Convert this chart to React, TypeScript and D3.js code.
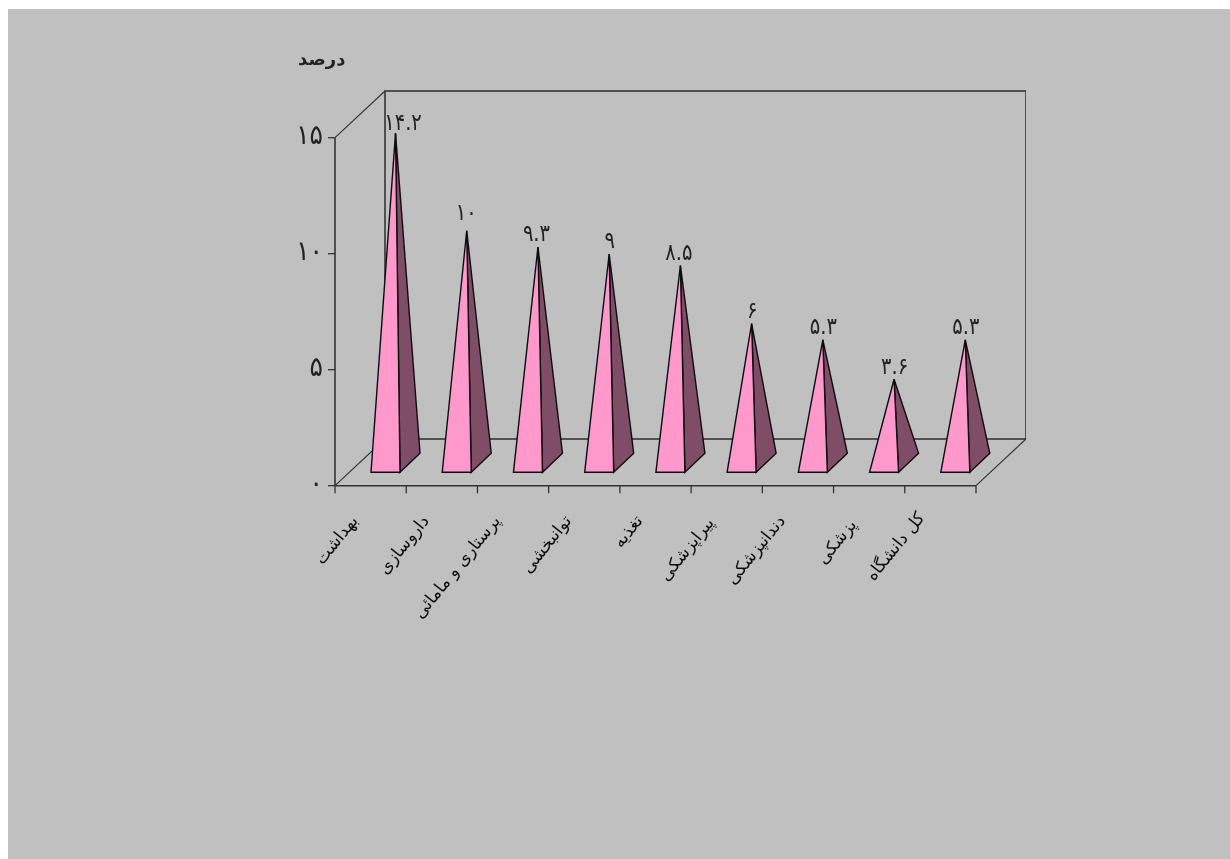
import React from "react";
import * as d3 from "d3";

const categories = ["بهداشت", "داروسازی", "پرستاری و مامائی", "توانبخشی", "تغذیه", "پیراپزشکی", "دندانپزشکی", "پزشکی", "کل دانشگاه"];
const values = [14.2, 10, 9.3, 9, 8.5, 6, 5.3, 3.6, 5.3];
const valueLabels = ["۱۴.۲", "۱۰", "۹.۳", "۹", "۸.۵", "۶", "۵.۳", "۳.۶", "۵.۳"];
const yTicks = [0, 5, 10, 15];
const yTickLabels = ["٠", "۵", "۱۰", "۱۵"];
const axisTitle = "درصد";

// label placement nudges (layout, not data)
const valueLabelDX = [7, -1, -2, 0, -2, 0, 0, 0, 0];
const valueLabelDY = [3, -5, 0, 0, 0, 0, 0, 1, 0];
const catLabelDX = [0, 0, 0, 0, 0, 0, 0, 0, -3];
const catLabelDY = [0, 0, 0, 0, 0, 2, 0, 4, -3];

const W = 1230, H = 859;
const x = d3.scaleBand<string>().domain(categories).range([335, 976]);
const y = d3.scaleLinear().domain([0, 15]).range([485.7, 137.7]);
const depthX = 50, depthY = -46.7;
const ink = "#333333";
const font = "'DejaVu Sans', sans-serif";

export default function App() {
  const y0 = y(0), yTop = y(15);
  const bw = x.bandwidth();
  const baseW = 29, baseDX = 20, baseDY = -19, frontLift = -13.4;
  const line = d3.line();
  return (
    <svg width={W} height={H} viewBox={`0 0 ${W} ${H}`} style={{ position: "absolute", left: 0, top: 0, display: "block" }}>
      <defs>
        <filter id="soft" x="0" y="0" width="100%" height="100%">
          <feGaussianBlur stdDeviation="0.35" />
        </filter>
      </defs>
      <rect x={8} y={9} width={W - 8} height={H - 9} fill="#C0C0C0" />
      <g filter="url(#soft)">
        <g stroke={ink} fill="none">
          <rect x={335 + depthX} y={yTop + depthY} width={641} height={y0 - yTop} strokeWidth={1.6} />
          <path d={line([[335, yTop], [335 + depthX, yTop + depthY]])!} strokeWidth={1.1} />
          <path d={line([[335, y0], [335 + depthX, y0 + depthY]])!} strokeWidth={1.1} />
          <path d={line([[976, y0], [976 + depthX, y0 + depthY]])!} strokeWidth={1.1} />
          <path d={line([[335, yTop], [335, y0]])!} strokeWidth={1.6} />
          <path d={line([[335, y0], [976, y0]])!} strokeWidth={1.6} />
          {yTicks.map((t) => <path key={t} d={line([[328, y(t)], [335, y(t)]])!} strokeWidth={1.3} />)}
          {[...categories.map((c) => x(c)!), 976].map((p, i) => <path key={i} d={line([[p, y0], [p, y0 + 7.5]])!} strokeWidth={1.3} />)}
        </g>
        {categories.map((c, i) => {
          const left = x(c)! + bw / 2 + 0.4;
          const right = left + baseW;
          const front = y0 + frontLift;
          const apex: [number, number] = [(left + right + baseDX) / 2, front + baseDY / 2 - (y0 - y(values[i]))];
          const lx = apex[0] + 0.5 + valueLabelDX[i];
          const ly = apex[1] - 6 + valueLabelDY[i];
          return (
            <g key={c} stroke="#0d0d0d" strokeWidth={1.4} strokeLinejoin="miter">
              <path d={line([[right, front], [right + baseDX, front + baseDY], apex])! + "Z"} fill="#7F4D66" />
              <path d={line([[left, front], [right, front], apex])! + "Z"} fill="#FF99CC" />
              <text transform={`translate(${lx},${ly}) scale(1,1.2)`} textAnchor="middle" fontFamily={font} fontSize={19.5} fill="#222" stroke="none" direction="rtl">{valueLabels[i]}</text>
              <text transform={`translate(${x(c)! + bw / 2 - 12 + catLabelDX[i]},${521 + catLabelDY[i]}) rotate(-51)`} textAnchor="start" direction="rtl" fontFamily={font} fontSize={17} fill="#111" stroke="none">{c}</text>
            </g>
          );
        })}
        {yTicks.map((t, i) => (
          <text key={t} transform={`translate(323,${y(t) + 6}) scale(1,1.1)`} textAnchor="end" fontFamily={font} fontSize={25} fill="#222">{yTickLabels[i]}</text>
        ))}
        <text x={298} y={65} textAnchor="end" direction="rtl" fontFamily={font} fontSize={18} fontWeight={700} fill="#222">{axisTitle}</text>
      </g>
    </svg>
  );
}
